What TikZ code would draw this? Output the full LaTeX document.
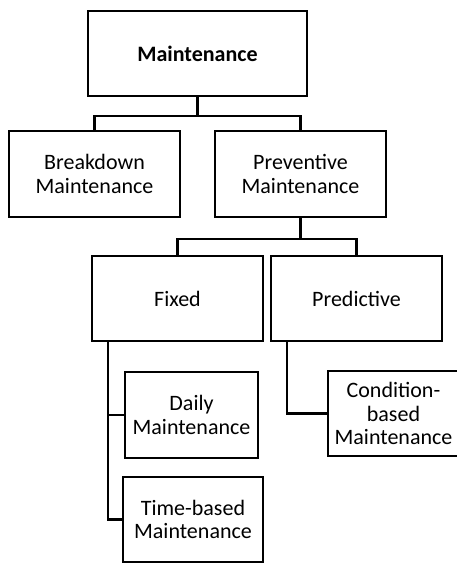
\documentclass[tikz,border=0pt]{standalone}
\usepackage{fontspec}
\setmainfont{Carlito}
\begin{document}
\begin{tikzpicture}[x=1pt,y=-1pt,
  box/.style={draw=black, line width=2.2pt, inner sep=0pt, align=center,
    font=\fontsize{22}{23.3}\selectfont},
  link/.style={draw=black, line width=2.2pt}]
\useasboundingbox (0,0) rectangle (457,563);
% boxes of the tree
\node[box, minimum width=219pt, minimum height=85pt, font=\fontsize{22}{23.3}\selectfont\bfseries] (main) at (197.5,53.5) {Maintenance};
\node[box, minimum width=171pt, minimum height=86pt] (brk) at (94.5,174) {Breakdown\\Maintenance};
\node[box, minimum width=171pt, minimum height=86pt] (prev) at (300.5,174) {Preventive\\Maintenance};
\node[box, minimum width=171pt, minimum height=85pt] (fixed) at (177.5,298.5) {Fixed};
\node[box, minimum width=171pt, minimum height=85pt] (pred) at (356.5,298.5) {Predictive};
\node[box, minimum width=133pt, minimum height=86pt] (daily) at (191.5,415) {Daily\\Maintenance};
\node[box, minimum width=140pt, minimum height=85pt] (time) at (193,519.5) {Time-based\\Maintenance};
\node[box, minimum width=131pt, minimum height=85pt] (cond) at (393.5,413.5) {Condition-\\based\\Maintenance};
% connectors
\draw[link] (main.south) -- ++(0,19) -| (brk.north);
\draw[link] (main.south) -- ++(0,19) -| (prev.north);
\draw[link] (prev.south) -- ++(0,21) -| (fixed.north);
\draw[link] (prev.south) -- ++(0,21) -| (pred.north);
\coordinate (fx) at ([xshift=17pt]fixed.south west);
\coordinate (px) at ([xshift=17pt]pred.south west);
\draw[link] (fx) |- (daily.west);
\draw[link] (fx) |- (time.west);
\draw[link] (px) |- (cond.west);
\end{tikzpicture}
\end{document}
